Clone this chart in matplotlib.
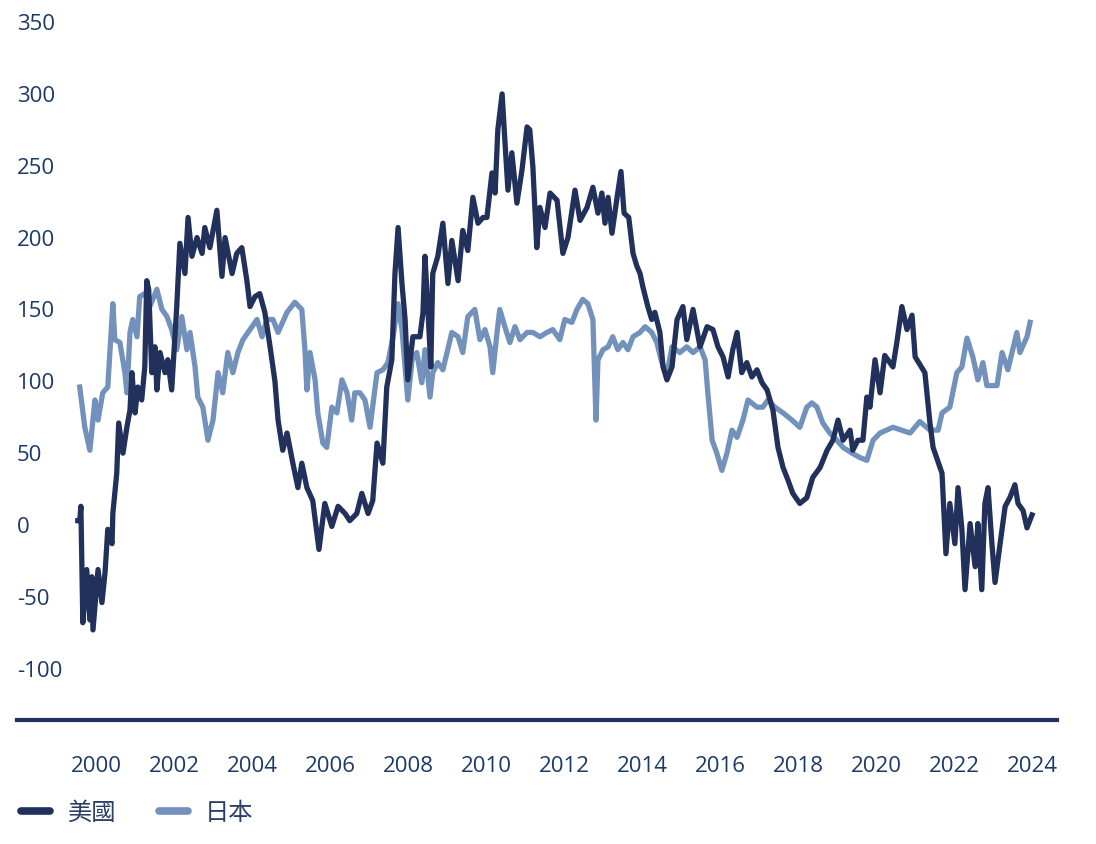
import matplotlib
matplotlib.use("Agg")
import matplotlib.pyplot as plt
from matplotlib.lines import Line2D

plt.rcParams["axes.unicode_minus"] = False

# decimal years / values
us_years = [1999.51, 1999.56, 1999.59, 1999.64, 1999.74, 1999.82, 1999.87, 1999.90, 2000.03, 2000.13,
            2000.21, 2000.28, 2000.39, 2000.41, 2000.51, 2000.56, 2000.67, 2000.77, 2000.85, 2000.90,
            2000.98, 2001.05, 2001.15, 2001.23, 2001.28, 2001.33, 2001.41, 2001.49, 2001.54, 2001.62,
            2001.75, 2001.82, 2001.92, 2002.05, 2002.13, 2002.26, 2002.34, 2002.44, 2002.57, 2002.70,
            2002.77, 2002.90, 2003.08, 2003.21, 2003.29, 2003.47, 2003.59, 2003.72, 2003.85, 2003.93,
            2004.06, 2004.18, 2004.31, 2004.44, 2004.57, 2004.65, 2004.77, 2004.88, 2005.03, 2005.16,
            2005.26, 2005.39, 2005.54, 2005.70, 2005.85, 2006.03, 2006.19, 2006.37, 2006.49, 2006.67,
            2006.80, 2006.96, 2007.08, 2007.19, 2007.34, 2007.44, 2007.57, 2007.65, 2007.73, 2007.83,
            2007.91, 2007.98, 2008.11, 2008.29, 2008.37, 2008.42, 2008.50, 2008.57, 2008.62, 2008.75,
            2008.88, 2009.01, 2009.11, 2009.27, 2009.39, 2009.52, 2009.65, 2009.78, 2009.91, 2010.01,
            2010.14, 2010.22, 2010.29, 2010.40, 2010.47, 2010.55, 2010.65, 2010.78, 2010.91, 2011.04,
            2011.11, 2011.19, 2011.29, 2011.37, 2011.50, 2011.63, 2011.81, 2011.96, 2012.09, 2012.27,
            2012.40, 2012.58, 2012.73, 2012.86, 2012.96, 2013.04, 2013.12, 2013.22, 2013.35, 2013.45,
            2013.53, 2013.65, 2013.76, 2013.86, 2013.94, 2014.01, 2014.14, 2014.24, 2014.32, 2014.45,
            2014.53, 2014.63, 2014.76, 2014.89, 2015.04, 2015.14, 2015.30, 2015.48, 2015.66, 2015.81,
            2015.94, 2016.07, 2016.20, 2016.32, 2016.43, 2016.55, 2016.68, 2016.81, 2016.94, 2017.07,
            2017.20, 2017.35, 2017.48, 2017.61, 2017.74, 2017.86, 2018.04, 2018.22, 2018.37, 2018.56,
            2018.74, 2018.89, 2019.02, 2019.15, 2019.33, 2019.40, 2019.53, 2019.66, 2019.76, 2019.84,
            2019.97, 2020.10, 2020.22, 2020.43, 2020.53, 2020.66, 2020.79, 2020.92, 2021.00, 2021.25,
            2021.38, 2021.46, 2021.69, 2021.79, 2021.89, 2022.02, 2022.10, 2022.20, 2022.28, 2022.41,
            2022.54, 2022.61, 2022.71, 2022.79, 2022.87, 2022.97, 2023.05, 2023.18, 2023.31, 2023.43,
            2023.56, 2023.64, 2023.77, 2023.87, 2024.00]
us_vals = [3, 3, 13, -68, -31, -66, -36, -73, -31, -54,
           -33, -3, -13, 8, 36, 71, 50, 68, 80, 106,
           78, 96, 87, 110, 170, 164, 106, 124, 94, 120,
           106, 115, 94, 152, 196, 175, 214, 187, 200, 189,
           207, 193, 219, 173, 200, 175, 189, 193, 170, 152,
           159, 161, 148, 125, 100, 73, 52, 64, 43, 26,
           43, 26, 17, -17, 15, -1, 13, 8, 3, 8,
           22, 8, 17, 57, 43, 96, 115, 175, 207, 168,
           143, 101, 131, 131, 148, 187, 148, 110, 175, 187,
           210, 168, 198, 170, 205, 191, 228, 210, 214, 214,
           245, 231, 275, 300, 268, 233, 259, 224, 247, 277,
           275, 249, 193, 221, 207, 231, 226, 189, 200, 233,
           212, 221, 235, 217, 231, 210, 228, 203, 228, 246,
           217, 214, 189, 180, 175, 166, 152, 143, 148, 134,
           110, 101, 110, 143, 152, 129, 150, 124, 138, 136,
           124, 117, 103, 122, 134, 106, 113, 103, 108, 99,
           94, 80, 54, 40, 31, 22, 15, 19, 33, 40,
           52, 59, 73, 59, 66, 52, 59, 59, 89, 82,
           115, 92, 118, 110, 127, 152, 136, 146, 117, 106,
           71, 54, 36, -20, 15, -13, 26, -3, -45, 1,
           -29, 1, -45, 15, 26, -13, -40, -13, 13, 19,
           28, 15, 10, -2, 7]

jp_years = [1999.56, 1999.69, 1999.82, 1999.95, 2000.03, 2000.15, 2000.28, 2000.41, 2000.46, 2000.59,
            2000.72, 2000.77, 2000.85, 2000.92, 2001.03, 2001.10, 2001.23, 2001.36, 2001.54, 2001.67,
            2001.80, 2001.92, 2002.05, 2002.18, 2002.31, 2002.39, 2002.52, 2002.59, 2002.72, 2002.85,
            2002.98, 2003.11, 2003.23, 2003.36, 2003.49, 2003.62, 2003.75, 2003.93, 2004.11, 2004.24,
            2004.36, 2004.52, 2004.65, 2004.88, 2005.08, 2005.26, 2005.34, 2005.39, 2005.47, 2005.60,
            2005.67, 2005.80, 2005.90, 2006.03, 2006.16, 2006.29, 2006.42, 2006.54, 2006.62, 2006.75,
            2006.88, 2007.01, 2007.19, 2007.34, 2007.47, 2007.60, 2007.73, 2007.83, 2007.91, 2007.98,
            2008.09, 2008.21, 2008.34, 2008.42, 2008.55, 2008.62, 2008.75, 2008.88, 2009.11, 2009.27,
            2009.39, 2009.52, 2009.70, 2009.83, 2009.96, 2010.09, 2010.16, 2010.27, 2010.34, 2010.47,
            2010.60, 2010.73, 2010.86, 2011.04, 2011.19, 2011.37, 2011.55, 2011.70, 2011.88, 2012.01,
            2012.19, 2012.32, 2012.47, 2012.60, 2012.73, 2012.81, 2012.86, 2012.99, 2013.12, 2013.24,
            2013.37, 2013.50, 2013.63, 2013.76, 2013.94, 2014.07, 2014.24, 2014.37, 2014.50, 2014.63,
            2014.76, 2014.96, 2015.14, 2015.30, 2015.48, 2015.61, 2015.68, 2015.79, 2015.91, 2016.04,
            2016.17, 2016.30, 2016.43, 2016.58, 2016.71, 2016.94, 2017.09, 2017.22, 2017.40, 2017.61,
            2017.84, 2018.04, 2018.22, 2018.35, 2018.48, 2018.63, 2018.81, 2018.99, 2019.15, 2019.38,
            2019.58, 2019.76, 2019.92, 2020.10, 2020.43, 2020.87, 2021.12, 2021.38, 2021.59, 2021.69,
            2021.89, 2022.07, 2022.20, 2022.33, 2022.48, 2022.61, 2022.74, 2022.84, 2023.10, 2023.23,
            2023.38, 2023.61, 2023.69, 2023.87, 2023.95]
jp_vals = [96, 68, 52, 87, 73, 92, 96, 154, 129, 127,
           106, 92, 134, 143, 131, 159, 161, 152, 164, 150,
           145, 136, 122, 145, 122, 134, 110, 89, 82, 59,
           73, 106, 92, 120, 106, 120, 129, 136, 143, 131,
           143, 143, 134, 148, 155, 150, 122, 94, 120, 101,
           78, 57, 54, 82, 78, 101, 92, 73, 92, 92,
           87, 68, 106, 108, 113, 131, 154, 136, 110, 87,
           115, 120, 99, 122, 89, 106, 113, 108, 134, 131,
           120, 145, 150, 129, 136, 124, 106, 134, 150, 138,
           127, 138, 129, 134, 134, 131, 134, 136, 129, 143,
           141, 150, 157, 154, 143, 73, 115, 122, 124, 131,
           122, 127, 122, 131, 134, 138, 134, 127, 113, 105,
           124, 120, 124, 120, 124, 115, 92, 59, 50, 38,
           50, 66, 61, 73, 87, 82, 82, 87, 82, 78,
           73, 68, 82, 85, 82, 71, 64, 59, 54, 50,
           47, 45, 59, 64, 68, 64, 72, 66, 66, 78,
           82, 106, 110, 130, 117, 101, 113, 97, 97, 120,
           108, 134, 120, 131, 141]

year_ticks = list(range(2000, 2025, 2))
val_ticks = [-100, -50, 0, 50, 100, 150, 200, 250, 300, 350]

us_color = "#22315c"
jp_color = "#7392bb"
txt_color = "#1c3967"

fig = plt.figure(figsize=(10.96, 8.44), dpi=100)
ax = fig.add_axes([0.0155, 0.1469, 0.9489, 0.827])

ax.plot(jp_years, jp_vals, color=jp_color, lw=3.8, solid_joinstyle="round", zorder=2)
ax.plot(us_years, us_vals, color=us_color, lw=3.8, solid_joinstyle="round", zorder=3)

ax.set_xlim(1997.95, 2024.64)
ax.set_ylim(-135.7, 350)
ax.set_xticks(year_ticks)
ax.set_yticks(val_ticks)
ax.tick_params(axis="both", length=0, labelsize=16, labelcolor=txt_color)
ax.tick_params(axis="x", pad=26)
ax.tick_params(axis="y", pad=0)
for lab in ax.get_yticklabels():
    lab.set_horizontalalignment("left")
for lab in ax.get_xticklabels() + ax.get_yticklabels():
    lab.set_family("Open Sans")

for s in ["top", "right", "left"]:
    ax.spines[s].set_visible(False)
ax.spines["bottom"].set_color(us_color)
ax.spines["bottom"].set_linewidth(3)

handles = [Line2D([], [], color=us_color, lw=5.5, solid_capstyle="round"),
           Line2D([], [], color=jp_color, lw=5.5, solid_capstyle="round")]
leg = fig.legend(handles, ["美國", "日本"], loc="center left", bbox_to_anchor=(0.019, 0.037),
                 ncol=2, frameon=False, borderpad=0, borderaxespad=0,
                 handlelength=1.2, handletextpad=0.72, columnspacing=1.75,
                 prop={"family": ["Noto Sans CJK TC", "DejaVu Sans"], "size": 17.5})
for t in leg.get_texts():
    t.set_color("#2c3f66")

fig.savefig("out.png", dpi=100)
